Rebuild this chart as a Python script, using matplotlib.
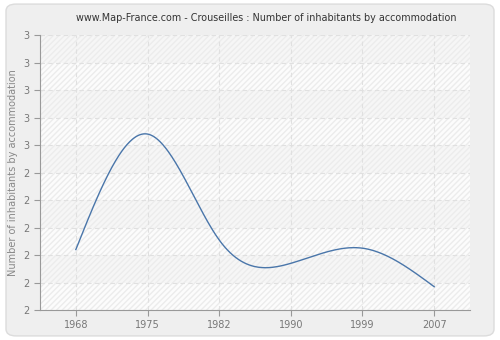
import numpy as np
import matplotlib
matplotlib.use("Agg")
import matplotlib.pyplot as plt
from matplotlib.patches import FancyBboxPatch
from matplotlib.ticker import FixedLocator, FuncFormatter

# Data
years = ["1968", "1975", "1982", "1990", "1999", "2007"]
inhabitants = [2.22, 2.64, 2.255, 2.17, 2.225, 2.085]
y_ticks = [2.0, 2.1, 2.2, 2.3, 2.4, 2.5, 2.6, 2.7, 2.8, 2.9, 3.0]


def natural_spline(x, y, n=400):
    """Natural cubic spline through the points, evaluated on a fine grid"""
    x = np.asarray(x, dtype=float)
    y = np.asarray(y, dtype=float)
    m = len(x)
    h = np.diff(x)
    a = np.zeros((m, m))
    b = np.zeros(m)
    a[0, 0] = 1
    a[-1, -1] = 1
    for i in range(1, m - 1):
        a[i, i - 1] = h[i - 1]
        a[i, i] = 2 * (h[i - 1] + h[i])
        a[i, i + 1] = h[i]
        b[i] = 6 * ((y[i + 1] - y[i]) / h[i] - (y[i] - y[i - 1]) / h[i - 1])
    mom = np.linalg.solve(a, b)
    xs = np.linspace(x[0], x[-1], n)
    idx = np.clip(np.searchsorted(x, xs) - 1, 0, m - 2)
    x0, x1 = x[idx], x[idx + 1]
    hh = x1 - x0
    t0 = x1 - xs
    t1 = xs - x0
    ys = (mom[idx] * t0 ** 3 / (6 * hh) + mom[idx + 1] * t1 ** 3 / (6 * hh)
          + (y[idx] / hh - mom[idx] * hh / 6) * t0
          + (y[idx + 1] / hh - mom[idx + 1] * hh / 6) * t1)
    return xs, ys


fig = plt.figure(figsize=(5, 3.4), dpi=100)
fig.patch.set_facecolor("white")
# rounded grey frame around everything
frame = FancyBboxPatch((0.012, 0.012), 0.976, 0.976,
                       boxstyle="round,pad=0,rounding_size=0.02",
                       transform=fig.transFigure, facecolor="#efefef",
                       edgecolor="#dcdcdc", linewidth=1.0, zorder=-10)
fig.patches.append(frame)

ax = fig.add_axes([0.08, 0.088, 0.86, 0.809])
ax.set_facecolor("#fbfbfb")

pos = np.arange(len(years))
ax.set_xlim(-0.5, len(years) - 0.5)
ax.set_ylim(2.0, 3.0)

# alternating bands with hatching
for i in range(len(y_ticks) - 1):
    ax.axhspan(y_ticks[i], y_ticks[i + 1],
               facecolor="#fcfcfc" if i % 2 == 0 else "#f6f6f6",
               edgecolor="#ececec", hatch="//////", linewidth=0, zorder=0)

ax.grid(True, color="#e0e0e0", linestyle=(0, (4, 3)), linewidth=0.8, zorder=1)
ax.set_axisbelow(True)

xs, ys = natural_spline(pos, inhabitants)
ax.plot(xs, ys, color="#4a76aa", linewidth=1.0, zorder=3)

ax.set_xticks(pos)
ax.set_xticklabels(years)
ax.yaxis.set_major_locator(FixedLocator(y_ticks))
ax.yaxis.set_major_formatter(FuncFormatter(lambda v, p: "%d" % round(v)))

for s in ["top", "right"]:
    ax.spines[s].set_visible(False)
for s in ["left", "bottom"]:
    ax.spines[s].set_color("#999999")
ax.tick_params(colors="#999999", labelcolor="#777777", labelsize=7, length=4)

ax.set_ylabel("Number of inhabitants by accommodation", fontsize=7,
              color="#888888")
fig.text(0.533, 0.947, "www.Map-France.com - Crouseilles : Number of inhabitants by accommodation",
         ha="center", va="center", fontsize=6.9, color="#333333")

fig.savefig("out.png", dpi=100, facecolor=fig.get_facecolor())
